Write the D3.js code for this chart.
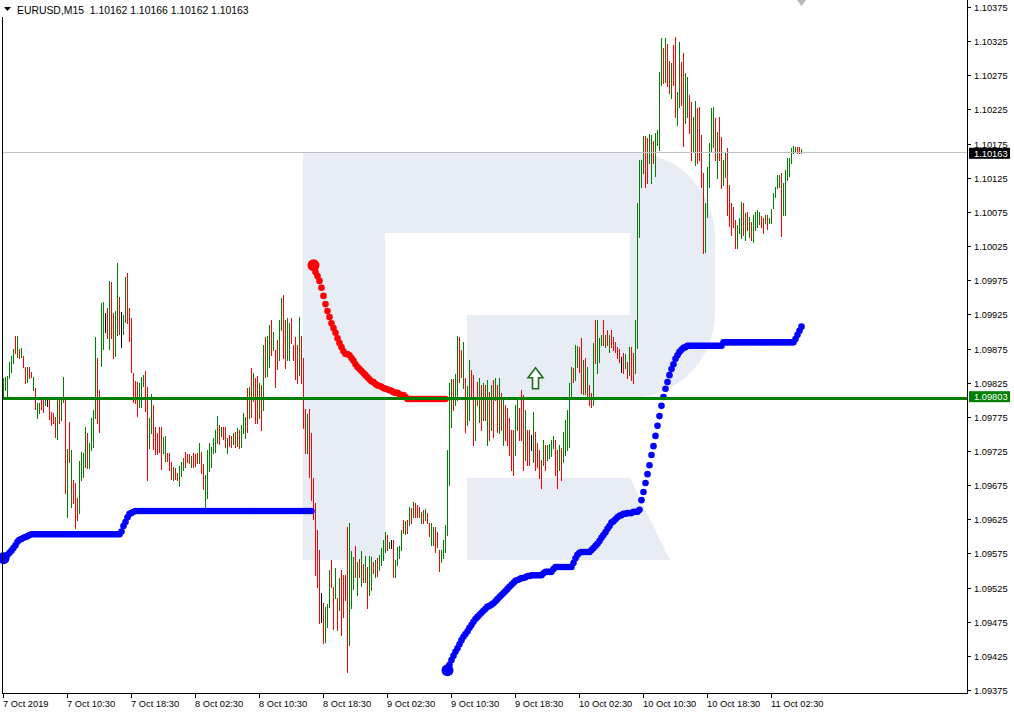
<!DOCTYPE html>
<html><head><meta charset="utf-8">
<script src="https://cdn.jsdelivr.net/npm/d3@7/dist/d3.min.js"></script>
<style>
html,body{margin:0;padding:0;background:#fff;}
svg{display:block;font-family:"Liberation Sans",Arial,sans-serif;}
</style></head><body>
<svg id="chart" width="1014" height="713"></svg>
<script>
// ---- data (EURUSD M15, bar 0 = 7 Oct 2019 02:30) ----
const symbolTitle = "EURUSD,M15  1.10162 1.10166 1.10162 1.10163";
const barHigh = [
 1.09832,1.09833,1.09835,1.09855,1.09864,1.09874,1.09893,1.09893,1.09874,1.09876,
 1.09864,1.09848,1.09848,1.09848,1.09841,1.09833,1.09817,1.09795,1.09795,1.09801,
 1.09801,1.09801,1.09801,1.09801,1.09782,1.09781,1.09775,1.09800,1.09803,1.09800,
 1.09833,1.09801,1.09728,1.09767,1.09727,1.09682,1.09678,1.09656,1.09710,1.09723,
 1.09722,1.09760,1.09751,1.09737,1.09773,1.09785,1.09892,1.09861,1.09814,1.09942,
 1.09943,1.09927,1.09934,1.09974,1.09972,1.09927,1.09930,1.10000,1.09950,1.09929,
 1.09924,1.09980,1.09986,1.09934,1.09920,1.09839,1.09827,1.09826,1.09824,1.09833,
 1.09836,1.09842,1.09819,1.09773,1.09808,1.09792,1.09760,1.09751,1.09760,1.09760,
 1.09745,1.09747,1.09722,1.09722,1.09709,1.09701,1.09700,1.09693,1.09703,1.09709,
 1.09715,1.09723,1.09721,1.09721,1.09718,1.09722,1.09721,1.09722,1.09737,1.09723,
 1.09706,1.09690,1.09726,1.09737,1.09731,1.09744,1.09756,1.09776,1.09763,1.09760,
 1.09760,1.09760,1.09744,1.09748,1.09747,1.09751,1.09753,1.09759,1.09756,1.09763,
 1.09781,1.09775,1.09817,1.09819,1.09846,1.09839,1.09832,1.09835,1.09824,1.09821,
 1.09880,1.09892,1.09893,1.09909,1.09917,1.09899,1.09873,1.09887,1.09917,1.09949,
 1.09953,1.09917,1.09920,1.09912,1.09920,1.09880,1.09892,1.09880,1.09921,1.09893,
 1.09861,1.09786,1.09779,1.09786,1.09751,1.09685,1.09649,1.09609,1.09580,1.09517,
 1.09502,1.09497,1.09501,1.09551,1.09565,1.09526,1.09554,1.09510,1.09539,1.09551,
 1.09543,1.09543,1.09614,1.09620,1.09578,1.09570,1.09586,1.09562,1.09567,1.09578,
 1.09560,1.09571,1.09555,1.09571,1.09570,1.09562,1.09565,1.09568,1.09573,1.09583,
 1.09595,1.09606,1.09602,1.09592,1.09595,1.09595,1.09565,1.09584,1.09586,1.09609,
 1.09624,1.09623,1.09624,1.09643,1.09641,1.09650,1.09649,1.09646,1.09643,1.09636,
 1.09639,1.09640,1.09634,1.09620,1.09620,1.09614,1.09614,1.09606,1.09580,1.09580,
 1.09595,1.09617,1.09726,1.09824,1.09830,1.09830,1.09838,1.09893,1.09892,1.09873,
 1.09885,1.09832,1.09820,1.09858,1.09843,1.09836,1.09800,1.09826,1.09832,1.09821,
 1.09824,1.09821,1.09829,1.09811,1.09821,1.09829,1.09832,1.09821,1.09832,1.09810,
 1.09800,1.09792,1.09788,1.09773,1.09756,1.09756,1.09792,1.09800,1.09788,1.09814,
 1.09807,1.09785,1.09756,1.09756,1.09748,1.09782,1.09753,1.09737,1.09726,1.09712,
 1.09741,1.09734,1.09734,1.09735,1.09741,1.09747,1.09741,1.09726,1.09734,1.09729,
 1.09753,1.09770,1.09785,1.09824,1.09848,1.09846,1.09880,1.09879,1.09877,1.09890,
 1.09858,1.09861,1.09848,1.09821,1.09810,1.09883,1.09917,1.09917,1.09890,1.09895,
 1.09917,1.09895,1.09902,1.09895,1.09902,1.09892,1.09885,1.09877,1.09874,1.09863,
 1.09868,1.09867,1.09855,1.09877,1.09877,1.09868,1.09917,1.10088,1.10151,1.10151,
 1.10186,1.10186,1.10183,1.10189,1.10188,1.10179,1.10191,1.10195,1.10280,1.10330,
 1.10315,1.10330,1.10321,1.10296,1.10293,1.10319,1.10331,1.10251,1.10324,1.10294,
 1.10308,1.10278,1.10273,1.10246,1.10236,1.10214,1.10237,1.10227,1.10229,1.10188,
 1.10132,1.10088,1.10141,1.10176,1.10227,1.10229,1.10212,1.10192,1.10214,1.10185,
 1.10151,1.10161,1.10169,1.10114,1.10088,1.10082,1.10063,1.10056,1.10066,1.10090,
 1.10088,1.10073,1.10075,1.10068,1.10060,1.10071,1.10075,1.10078,1.10075,1.10069,
 1.10066,1.10071,1.10071,1.10066,1.10079,1.10103,1.10111,1.10129,1.10129,1.10132,
 1.10117,1.10136,1.10154,1.10154,1.10169,1.10171,1.10170,1.10170,1.10170,1.10167
];
const barLow = [
 1.09804,1.09814,1.09804,1.09832,1.09841,1.09854,1.09868,1.09863,1.09861,1.09863,
 1.09848,1.09824,1.09826,1.09832,1.09833,1.09814,1.09786,1.09773,1.09781,1.09786,
 1.09782,1.09792,1.09791,1.09772,1.09763,1.09766,1.09745,1.09742,1.09766,1.09770,
 1.09797,1.09663,1.09628,1.09709,1.09643,1.09649,1.09612,1.09624,1.09634,1.09682,
 1.09687,1.09701,1.09700,1.09700,1.09726,1.09731,1.09773,1.09766,1.09753,1.09849,
 1.09874,1.09899,1.09890,1.09874,1.09890,1.09861,1.09864,1.09895,1.09896,1.09877,
 1.09896,1.09914,1.09912,1.09886,1.09841,1.09797,1.09795,1.09776,1.09789,1.09789,
 1.09820,1.09783,1.09682,1.09729,1.09751,1.09728,1.09721,1.09721,1.09723,1.09698,
 1.09722,1.09710,1.09710,1.09697,1.09684,1.09682,1.09684,1.09682,1.09674,1.09688,
 1.09697,1.09701,1.09709,1.09708,1.09701,1.09701,1.09703,1.09708,1.09708,1.09693,
 1.09669,1.09641,1.09656,1.09695,1.09701,1.09722,1.09723,1.09737,1.09735,1.09747,
 1.09742,1.09731,1.09722,1.09732,1.09731,1.09735,1.09731,1.09732,1.09729,1.09731,
 1.09751,1.09744,1.09753,1.09773,1.09775,1.09798,1.09766,1.09766,1.09773,1.09756,
 1.09785,1.09833,1.09835,1.09848,1.09865,1.09873,1.09819,1.09845,1.09858,1.09902,
 1.09861,1.09846,1.09858,1.09858,1.09883,1.09858,1.09830,1.09824,1.09836,1.09824,
 1.09759,1.09722,1.09722,1.09687,1.09653,1.09626,1.09543,1.09526,1.09473,1.09474,
 1.09444,1.09445,1.09467,1.09497,1.09526,1.09464,1.09510,1.09463,1.09492,1.09456,
 1.09482,1.09507,1.09401,1.09441,1.09495,1.09523,1.09540,1.09514,1.09540,1.09527,
 1.09533,1.09533,1.09495,1.09514,1.09521,1.09546,1.09540,1.09542,1.09551,1.09558,
 1.09565,1.09577,1.09580,1.09583,1.09583,1.09540,1.09540,1.09558,1.09568,1.09580,
 1.09605,1.09603,1.09605,1.09617,1.09620,1.09628,1.09628,1.09628,1.09628,1.09620,
 1.09620,1.09624,1.09620,1.09601,1.09587,1.09587,1.09577,1.09584,1.09549,1.09562,
 1.09568,1.09577,1.09602,1.09675,1.09760,1.09785,1.09792,1.09800,1.09826,1.09833,
 1.09817,1.09753,1.09763,1.09770,1.09803,1.09734,1.09741,1.09792,1.09767,1.09756,
 1.09770,1.09770,1.09734,1.09741,1.09756,1.09745,1.09800,1.09753,1.09751,1.09756,
 1.09734,1.09741,1.09734,1.09719,1.09697,1.09690,1.09719,1.09756,1.09741,1.09741,
 1.09697,1.09712,1.09704,1.09704,1.09726,1.09709,1.09697,1.09701,1.09685,1.09671,
 1.09704,1.09697,1.09712,1.09715,1.09718,1.09729,1.09690,1.09671,1.09697,1.09682,
 1.09709,1.09719,1.09726,1.09731,1.09803,1.09826,1.09829,1.09848,1.09841,1.09810,
 1.09808,1.09808,1.09803,1.09792,1.09789,1.09792,1.09854,1.09839,1.09855,1.09880,
 1.09880,1.09877,1.09880,1.09870,1.09877,1.09873,1.09870,1.09861,1.09855,1.09841,
 1.09839,1.09846,1.09832,1.09836,1.09829,1.09824,1.09839,1.09876,1.10038,1.10111,
 1.10132,1.10111,1.10117,1.10147,1.10117,1.10147,1.10127,1.10173,1.10166,1.10261,
 1.10264,1.10265,1.10259,1.10249,1.10242,1.10261,1.10214,1.10202,1.10229,1.10232,
 1.10171,1.10205,1.10214,1.10191,1.10151,1.10163,1.10144,1.10147,1.10151,1.10111,
 1.10015,1.10016,1.10068,1.10111,1.10164,1.10170,1.10151,1.10125,1.10151,1.10110,
 1.10114,1.10126,1.10070,1.10055,1.10041,1.10053,1.10022,1.10022,1.10044,1.10037,
 1.10041,1.10034,1.10049,1.10038,1.10034,1.10031,1.10049,1.10053,1.10057,1.10053,
 1.10044,1.10059,1.10050,1.10059,1.10059,1.10081,1.10097,1.10110,1.10111,1.10040,
 1.10070,1.10070,1.10122,1.10127,1.10147,1.10161,1.10163,1.10161,1.10161,1.10161
];
// g = bull bar, r = bear bar, k = doji
const barDirection =
 "ggggggrgrg"+"rrgrrgrggr"+"rgkrrrrgrg"+"grgrgrrrgg"+"ggrggggrrg"+
 "gkrgrrggrk"+"ggrrrrrrgg"+"grrggrrrrr"+"ggrrrgrrgg"+"grrrgrrrgr"+
 "rgggggggrg"+"rrgrrgrgrg"+"ggrgrgrrgr"+"grggrgrrgg"+"rrggrrrrgr"+
 "rrgrrrrrrk"+"rgggrrgrgr"+"rrrgggrgrg"+"rgrggrgrgg"+"ggrgkrgggg"+
 "rgrgrgrrrg"+"rgrrggrrrg"+"gggggrggrr"+"grggrrgrgr"+"grgrgrgrgr"+
 "grrrrrggrr"+"rgrrkgrrrr"+"grggggrrgr"+"gggggrggrr"+"grgrrgrggg"+
 "rgrgrrrrrk"+"rgrgrrgggg"+"grrggrgggg"+"rgrrgrrggr"+"rggrrggrrr"+
 "rgggggrgrr"+"ggrrrrrggg"+"rgrgrggggr"+"rgrggggggr"+"gggggggrrg";

// trailing-stop dots
const blueStopStart1 = 0;
const blueStop1 = [
 1.09568,1.09570,1.09573,1.09576,1.09579,1.09583,1.09587,1.09592,1.09595,1.09596,
 1.09598,1.09599,1.09600,1.09602,1.09603,
 1.09603,1.09603,1.09603,1.09603,1.09603,1.09603,1.09603,1.09603,1.09603,1.09603,
 1.09603,1.09603,1.09603,1.09603,1.09603,1.09603,1.09603,1.09603,1.09603,1.09603,
 1.09603,1.09603,1.09603,1.09603,1.09603,1.09603,1.09603,1.09603,1.09603,1.09603,
 1.09603,1.09603,1.09603,1.09603,1.09603,1.09603,1.09603,1.09603,1.09603,1.09603,
 1.09603,1.09603,1.09603,1.09603,
 1.09607,1.09615,1.09621,1.09628,1.09633,1.09634,1.09636,
 1.09637,1.09637,1.09637,1.09637,1.09637,1.09637,1.09637,1.09637,1.09637,1.09637,
 1.09637,1.09637,1.09637,1.09637,1.09637,1.09637,1.09637,1.09637,1.09637,1.09637,
 1.09637,1.09637,1.09637,1.09637,1.09637,1.09637,1.09637,1.09637,1.09637,1.09637,
 1.09637,1.09637,1.09637,1.09637,1.09637,1.09637,1.09637,1.09637,1.09637,1.09637,
 1.09637,1.09637,1.09637,1.09637,1.09637,1.09637,1.09637,1.09637,1.09637,1.09637,
 1.09637,1.09637,1.09637,1.09637,1.09637,1.09637,1.09637,1.09637,1.09637,1.09637,
 1.09637,1.09637,1.09637,1.09637,1.09637,1.09637,1.09637,1.09637,1.09637,1.09637,
 1.09637,1.09637,1.09637,1.09637,1.09637,1.09637,1.09637,1.09637,1.09637,1.09637,
 1.09637,1.09637,1.09637,1.09637,1.09637,1.09637,1.09637,1.09637,1.09637
];
const redStopStart = 155;
const redStop = [
 1.09997,1.09987,1.09981,1.09974,1.09964,1.09952,1.09940,1.09930,1.09921,1.09912,
 1.09905,1.09898,1.09890,1.09883,1.09877,1.09871,1.09867,1.09867,1.09865,1.09861,
 1.09857,1.09852,1.09848,1.09845,1.09842,1.09839,1.09836,1.09833,1.09830,1.09827,
 1.09826,1.09823,1.09821,1.09820,1.09819,1.09817,1.09816,1.09815,1.09814,1.09813,
 1.09811,1.09810,1.09810,1.09808,1.09807,1.09807,1.09804,
 1.09801,1.09801,1.09801,1.09801,1.09801,1.09801,1.09801,1.09801,1.09801,1.09801,
 1.09801,1.09801,1.09801,1.09801,1.09801,1.09801,1.09801,1.09801,1.09801,1.09801
];
const blueStopStart2 = 222;
const blueStop2 = [
 1.09404,1.09412,1.09419,1.09425,1.09431,1.09436,1.09442,1.09448,1.09453,1.09457,
 1.09461,1.09466,1.09470,1.09475,1.09479,1.09482,1.09485,1.09488,1.09491,1.09494,
 1.09497,1.09498,1.09500,1.09502,1.09505,1.09508,1.09511,1.09514,1.09517,1.09520,
 1.09523,1.09526,1.09529,1.09532,1.09535,1.09536,1.09537,1.09539,1.09539,1.09540,
 1.09542,1.09542,1.09543,1.09543,1.09543,1.09543,1.09543,1.09543,1.09546,1.09548,
 1.09548,1.09548,1.09548,1.09552,1.09555,1.09555,1.09555,1.09555,1.09555,1.09555,
 1.09555,1.09555,1.09555,1.09561,1.09568,1.09573,1.09576,1.09577,1.09577,1.09577,
 1.09577,1.09577,1.09580,1.09583,1.09586,1.09589,1.09593,1.09598,1.09602,1.09606,
 1.09611,1.09615,1.09620,1.09622,1.09625,1.09628,1.09630,1.09631,1.09633,1.09633,
 1.09634,1.09634,1.09634,1.09636,1.09636,1.09636,1.09639,1.09653,1.09665,1.09678,
 1.09691,1.09704,1.09719,1.09732,1.09747,1.09762,1.09776,1.09791,1.09804,1.09816,
 1.09826,1.09836,1.09845,1.09852,1.09860,1.09865,1.09870,1.09873,1.09876,1.09877,
 1.09879,1.09879,
 1.09879,1.09879,1.09879,1.09879,1.09879,1.09879,1.09879,1.09879,
 1.09879,1.09879,1.09879,1.09879,1.09879,1.09879,1.09879,1.09879,
 1.09884,1.09884,1.09884,1.09884,1.09884,1.09884,1.09884,1.09884,1.09884,1.09884,
 1.09884,1.09884,1.09884,1.09884,1.09884,1.09884,1.09884,1.09884,1.09884,1.09884,
 1.09884,1.09884,1.09884,1.09884,1.09884,1.09884,1.09884,1.09884,1.09884,1.09884,
 1.09884,1.09884,1.09884,1.09884,1.09884,1.09884,
 1.09889,1.09895,1.09901,1.09907
];

const priceTicks = [1.09375,1.09425,1.09475,1.09525,1.09575,1.09625,1.09675,1.09725,1.09775,1.09825,
 1.09875,1.09925,1.09975,1.10025,1.10075,1.10125,1.10175,1.10225,1.10275,1.10325,1.10375];
const timeLabels = ["7 Oct 2019","7 Oct 10:30","7 Oct 18:30","8 Oct 02:30","8 Oct 10:30","8 Oct 18:30",
 "9 Oct 02:30","9 Oct 10:30","9 Oct 18:30","10 Oct 02:30","10 Oct 10:30","10 Oct 18:30","11 Oct 02:30"];
const timeLabelBars = [0,32,64,96,128,160,192,224,256,288,320,352,384];
const hLinePrice = 1.09803;
const bidPrice = 1.10163;
const arrowBar = 266, arrowPrice = 1.09816;

// ---- drawing ----
const svg = d3.select("#chart");
const x = d3.scaleLinear().domain([0, 399]).range([3, 801]);
const y = d3.scaleLinear().domain([1.09375, 1.10375]).range([690, 7]);
const px = i => Math.round(x(i)) + 0.5;
const FONT = 9.3;

// watermark logo
const wm = svg.append("g").attr("fill", "#e8edf5");
wm.append("path").attr("d",
 "M303,152H630A85,85 0 0 1 715,237V313A85,85 0 0 1 630,398H467V315H630V233H385V560H303Z");
wm.append("path").attr("d", "M467,478H630L670,560H467Z");

// bars
const colorOf = {g: "#008000", r: "#ff0000", k: "#000000"};
const bars = barHigh.map((h, i) => ({i, h, l: barLow[i], d: barDirection[i]}));
svg.append("g").selectAll("line").data(bars).join("line")
  .attr("x1", d => px(d.i)).attr("x2", d => px(d.i))
  .attr("y1", d => Math.round(y(d.h))).attr("y2", d => Math.round(y(d.l)) + 1)
  .attr("stroke", d => colorOf[d.d]).attr("stroke-width", 1);

// stop dots
function dots(start, vals, color) {
  const g = svg.append("g").attr("fill", color);
  g.selectAll("circle").data(vals.map((v, k) => ({i: start + k, v, k}))).join("circle")
    .attr("cx", d => x(d.i) + 0.5).attr("cy", d => y(d.v))
    .attr("r", d => d.k === 0 ? 6 : 3.3);
}
dots(blueStopStart1, blueStop1, "#0000ff");
dots(redStopStart, redStop, "#ff0000");
dots(blueStopStart2, blueStop2, "#0000ff");

// horizontal line & bid line
const yh = Math.round(y(hLinePrice));
svg.append("line").attr("x1", 2).attr("x2", 967).attr("y1", yh + 0.5).attr("y2", yh + 0.5)
  .attr("stroke", "#008000").attr("stroke-width", 3);
const yb = Math.round(y(bidPrice));
svg.append("line").attr("x1", 2).attr("x2", 967).attr("y1", yb + 0.5).attr("y2", yb + 0.5)
  .attr("stroke", "#c0c0c0").attr("stroke-width", 1);

// arrow
const ax = x(arrowBar) + 0.5, ay = y(arrowPrice);
svg.append("path")
  .attr("d", `M${ax},${ay-21}L${ax+7.5},${ay-11}H${ax+3}V${ay}H${ax-3}V${ay-11}H${ax-7.5}Z`)
  .attr("fill", "#ffffff").attr("stroke", "#1a6e1a").attr("stroke-width", 1.6)
  .attr("stroke-linejoin", "miter");

// frame
svg.append("line").attr("x1", 2.5).attr("x2", 2.5).attr("y1", 17).attr("y2", 694).attr("stroke", "#000");
svg.append("line").attr("x1", 967.5).attr("x2", 967.5).attr("y1", 0).attr("y2", 694).attr("stroke", "#000");
svg.append("line").attr("x1", 2).attr("x2", 968).attr("y1", 693.5).attr("y2", 693.5).attr("stroke", "#000");

// right axis
const ra = svg.append("g").attr("font-size", FONT);
priceTicks.forEach(t => {
  const yy = Math.round(y(t)) + 0.5;
  ra.append("line").attr("x1", 968).attr("x2", 971).attr("y1", yy).attr("y2", yy).attr("stroke", "#000");
  ra.append("text").attr("x", 974).attr("y", yy + 3.3).text(t.toFixed(5));
});

// bottom axis
const ba = svg.append("g").attr("font-size", FONT);
timeLabels.forEach((lab, k) => {
  const xx = px(timeLabelBars[k]);
  ba.append("line").attr("x1", xx).attr("x2", xx).attr("y1", 694).attr("y2", 698).attr("stroke", "#000");
  ba.append("text").attr("x", xx - 0.5).attr("y", 706.5).text(lab);
});

// price labels
function priceBox(v, bg, dy) {
  const yy = y(v) + dy;
  svg.append("rect").attr("x", 969).attr("y", yy - 5.5).attr("width", 41).attr("height", 11).attr("fill", bg);
  svg.append("text").attr("x", 974).attr("y", yy + 3.3).attr("font-size", FONT).attr("fill", "#fff").text(v.toFixed(5));
}
priceBox(bidPrice, "#000", 1.5);
priceBox(hLinePrice, "#008000", -1);

// shift marker
svg.append("path").attr("d", "M797,0H806L801.5,6Z").attr("fill", "#b8b8b8");

// title
svg.append("path").attr("d", "M4,7H11L7.5,11Z").attr("fill", "#000");
svg.append("text").attr("x", 17).attr("y", 14).attr("font-size", 10.4)
  .style("white-space", "pre").text(symbolTitle);
</script>
</body></html>
